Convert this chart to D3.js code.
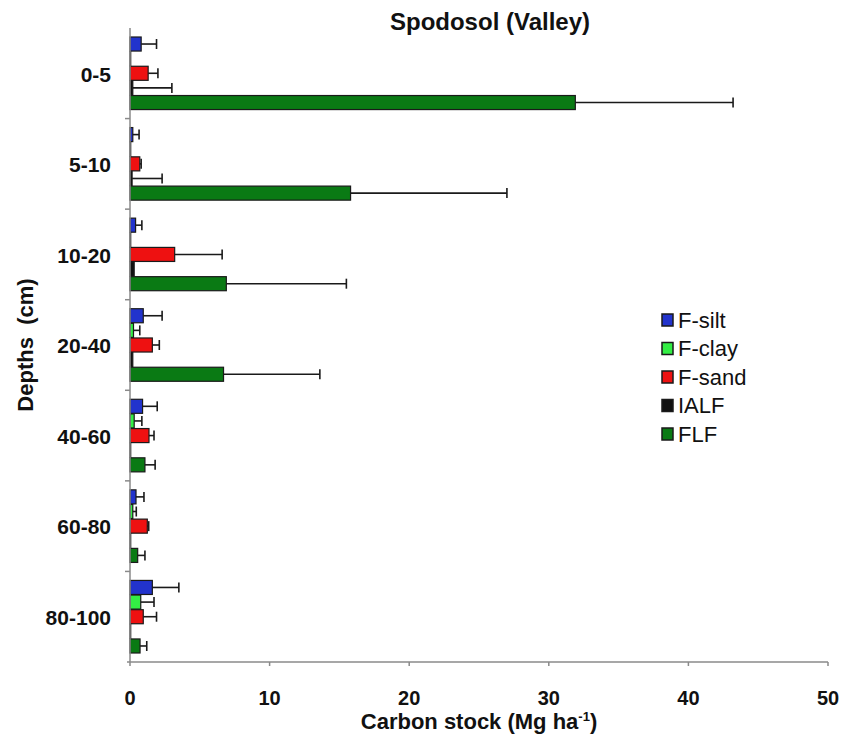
<!DOCTYPE html>
<html lang="en">
<head>
  <meta charset="UTF-8">
  <title>Spodosol (Valley)</title>
  <script src="https://d3js.org/d3.v7.min.js"></script>
  <style>
    body { margin: 0; background: #fff; font-family: "Liberation Sans", Arial, sans-serif; }
    text { font-weight: bold; fill: #111; }
    .axis-line { stroke: #8a8a8a; stroke-width: 1.5px; }
  </style>
</head>
<body>
  <svg id="viz" width="850" height="737"></svg>

  <script>
    const depths = ["0-5", "5-10", "10-20", "20-40", "40-60", "60-80", "80-100"];
    const fractions = ["F-silt", "F-clay", "F-sand", "IALF", "FLF"];

    // mean carbon stock per fraction, one value per depth
    const silt = [0.8, 0.2, 0.4, 0.95, 0.9, 0.43, 1.6];
    const clay = [0.05, 0.05, 0.05, 0.25, 0.3, 0.2, 0.77];
    const sand = [1.3, 0.7, 3.2, 1.6, 1.36, 1.24, 0.95];
    const ialf = [0.2, 0.15, 0.3, 0.2, 0.05, 0.05, 0.05];
    const flf  = [31.9, 15.8, 6.9, 6.7, 1.07, 0.55, 0.72];

    // error bars (upper side only)
    const siltErr = [1.1, 0.45, 0.45, 1.35, 1.05, 0.57, 1.9];
    const clayErr = [0, 0, 0, 0.45, 0.55, 0.25, 0.95];
    const sandErr = [0.7, 0.1, 3.4, 0.5, 0.36, 0.1, 0.95];
    const ialfErr = [2.8, 2.15, 0, 0, 0, 0, 0];
    const flfErr  = [11.3, 11.2, 8.6, 6.9, 0.73, 0.52, 0.48];

    const xTicks = [0, 10, 20, 30, 40, 50];
    const colors = ["#2233cc", "#33ee44", "#ee1111", "#111111", "#0a7a14"];

    const means = [silt, clay, sand, ialf, flf];
    const errs = [siltErr, clayErr, sandErr, ialfErr, flfErr];

    const rows = [];
    depths.forEach((d, i) => {
      fractions.forEach((f, j) => {
        rows.push({ depth: d, fraction: f, value: means[j][i], err: errs[j][i], color: colors[j] });
      });
    });

    const svg = d3.select("#viz");
    const plot = { left: 130, right: 828, top: 28, bottom: 662 };

    const x = d3.scaleLinear().domain([0, 50]).range([plot.left, plot.right]);
    const y = d3.scaleBand().domain(depths).range([plot.top, plot.bottom]).padding(0);
    const y1 = d3.scaleBand().domain(fractions)
      .range([9, y.bandwidth() - 9]).paddingInner(0.04);

    // bars
    svg.append("g").selectAll("rect")
      .data(rows)
      .enter()
      .append("rect")
      .attr("x", x(0))
      .attr("y", d => y(d.depth) + y1(d.fraction))
      .attr("width", d => x(d.value) - x(0))
      .attr("height", y1.bandwidth())
      .attr("fill", d => d.color)
      .attr("stroke", "#1a1a1a")
      .attr("stroke-width", 1.2);

    // error bars
    const eb = svg.append("g").selectAll("g")
      .data(rows.filter(d => d.err > 0))
      .enter()
      .append("g")
      .attr("stroke", "#1a1a1a")
      .attr("stroke-width", 1.6);
    eb.append("line")
      .attr("x1", d => x(d.value))
      .attr("x2", d => x(d.value + d.err))
      .attr("y1", d => y(d.depth) + y1(d.fraction) + y1.bandwidth() / 2)
      .attr("y2", d => y(d.depth) + y1(d.fraction) + y1.bandwidth() / 2);
    eb.append("line")
      .attr("x1", d => x(d.value + d.err))
      .attr("x2", d => x(d.value + d.err))
      .attr("y1", d => y(d.depth) + y1(d.fraction) + y1.bandwidth() / 2 - 5)
      .attr("y2", d => y(d.depth) + y1(d.fraction) + y1.bandwidth() / 2 + 5);

    // axes
    svg.append("line").attr("class", "axis-line")
      .attr("x1", x(0)).attr("x2", x(0))
      .attr("y1", plot.top).attr("y2", plot.bottom);
    svg.append("line").attr("class", "axis-line")
      .attr("x1", x(0) - 3).attr("x2", plot.right)
      .attr("y1", plot.bottom).attr("y2", plot.bottom);

    // y-axis ticks at category boundaries
    svg.selectAll(".ytick")
      .data(depths.slice(1))
      .enter()
      .append("line")
      .attr("class", "axis-line")
      .attr("x1", x(0) - 5).attr("x2", x(0))
      .attr("y1", d => y(d)).attr("y2", d => y(d));

    svg.selectAll(".xtick")
      .data(xTicks)
      .enter()
      .append("line")
      .attr("class", "axis-line")
      .attr("x1", d => x(d)).attr("x2", d => x(d))
      .attr("y1", plot.bottom).attr("y2", plot.bottom + 4);

    svg.selectAll(".xlabel")
      .data(xTicks)
      .enter()
      .append("text")
      .attr("x", d => x(d))
      .attr("y", 705)
      .attr("text-anchor", "middle")
      .style("font-size", "20px")
      .text(d => d);

    svg.selectAll(".ylabel")
      .data(depths)
      .enter()
      .append("text")
      .attr("x", 111)
      .attr("y", d => y(d) + y.bandwidth() / 2 + 1)
      .attr("dy", "0.35em")
      .attr("text-anchor", "end")
      .style("font-size", "21px")
      .text(d => d);

    // titles
    svg.append("text")
      .attr("x", 490).attr("y", 30)
      .attr("text-anchor", "middle")
      .style("font-size", "24px")
      .text("Spodosol (Valley)");

    const xt = svg.append("text")
      .attr("x", (plot.left + plot.right) / 2).attr("y", 729)
      .attr("text-anchor", "middle")
      .style("font-size", "22px");
    xt.append("tspan").text("Carbon stock (Mg ha");
    xt.append("tspan").attr("dy", -8).style("font-size", "13px").text("-1");
    xt.append("tspan").attr("dy", 8).text(")");

    svg.append("text")
      .attr("transform", "translate(33,345) rotate(-90)")
      .attr("text-anchor", "middle")
      .style("font-size", "22px")
      .attr("xml:space", "preserve")
      .text("Depths  (cm)");

    // legend
    const legend = svg.append("g").selectAll("g")
      .data(fractions)
      .enter()
      .append("g")
      .attr("transform", (d, i) => `translate(662,${320 + i * 28.5})`);
    legend.append("rect")
      .attr("x", 0).attr("y", -6)
      .attr("width", 11).attr("height", 12)
      .attr("fill", (d, i) => colors[i])
      .attr("stroke", "#1a1a1a")
      .attr("stroke-width", 1.5);
    legend.append("text")
      .attr("x", 16).attr("dy", "0.36em")
      .style("font-size", "22px")
      .style("font-weight", "normal")
      .text(d => d);
  </script>
</body>
</html>
